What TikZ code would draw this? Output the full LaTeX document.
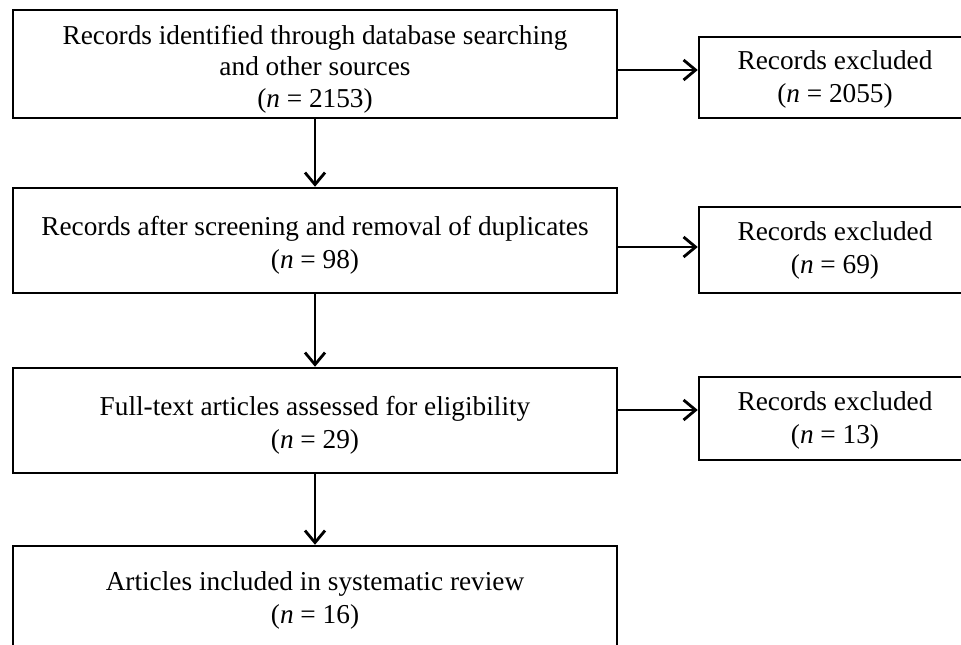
\documentclass[tikz,border=0pt]{standalone}
\usepackage{fontspec}
\setmainfont{Liberation Serif}
\usetikzlibrary{arrows.meta}
\begin{document}
\begin{tikzpicture}[x=1pt,y=-1pt,
  box/.style={draw, line width=2.5pt, rectangle, inner sep=0pt},
  txt/.style={align=center, inner sep=0pt, font=\fontsize{27.3}{33}\selectfont},
  txtthree/.style={align=center, inner sep=0pt, font=\fontsize{27.3}{31.5}\selectfont},
  arr/.style={line width=2.8pt, -{Straight Barb[length=12pt,width=20pt,line width=2.8pt]}}]
\useasboundingbox (0,0) rectangle (961,645);
\clip (0,0) rectangle (961,645);
\node[box, minimum width=604pt, minimum height=108pt] (b1) at (315,64) {};
\node[box, minimum width=604pt, minimum height=105pt] (b2) at (315,240.5) {};
\node[box, minimum width=604pt, minimum height=105pt] (b3) at (315,420.5) {};
\node[box, minimum width=604pt, minimum height=108pt] (b4) at (315,600) {};
\node[box, minimum width=272pt, minimum height=81pt] (r1) at (835,77.5) {};
\node[box, minimum width=272pt, minimum height=86pt] (r2) at (835,250) {};
\node[box, minimum width=272pt, minimum height=83pt] (r3) at (835,418.5) {};
\node[txtthree] (t1) at ([yshift=-5pt]b1.center)
  {Records identified through database searching\\and other sources\\(\textit{n} = 2153)};
\node[txt] (t2) at ([yshift=-4.5pt]b2.center)
  {Records after screening and removal of duplicates\\(\textit{n} = 98)};
\node[txt] (t3) at ([yshift=-4.5pt]b3.center)
  {Full-text articles assessed for eligibility\\(\textit{n} = 29)};
\node[txt] (t4) at ([yshift=-0.5pt]b4.center)
  {Articles included in systematic review\\(\textit{n} = 16)};
\node[txt] (s1) at ([yshift=-1.5pt]r1.center) {Records excluded\\(\textit{n} = 2055)};
\node[txt] (s2) at (r2.center) {Records excluded\\(\textit{n} = 69)};
\node[txt] (s3) at ([yshift=-1.5pt]r3.center) {Records excluded\\(\textit{n} = 13)};
\draw[arr] (b1.south) -- (b2.north);
\draw[arr] (b2.south) -- (b3.north);
\draw[arr] (b3.south) -- (b4.north);
\draw[arr] (b1.east |- 0,70) -- (r1.west |- 0,70);
\draw[arr] (b2.east |- 0,247) -- (r2.west |- 0,247);
\draw[arr] (b3.east |- 0,410) -- (r3.west |- 0,410);
\end{tikzpicture}
\end{document}
